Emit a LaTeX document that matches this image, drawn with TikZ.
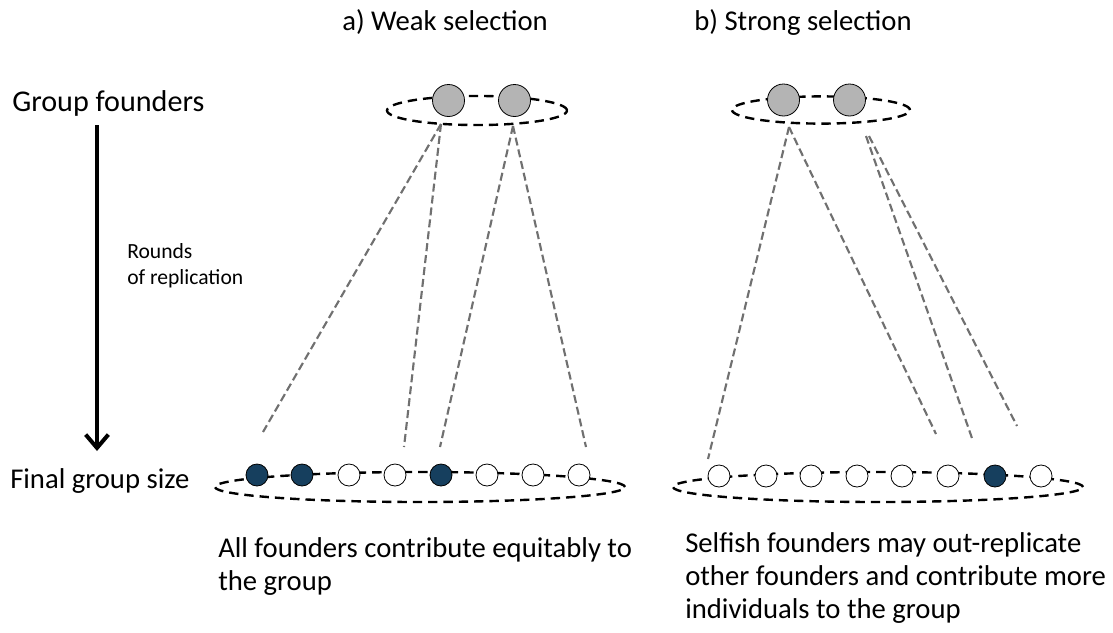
\documentclass[tikz,border=0pt]{standalone}
\usepackage{fontspec}
\setmainfont{Carlito}
\usetikzlibrary{arrows.meta}
\tikzset{>={Straight Barb[length=10pt,width=17pt]}}
\usepackage[svgnames]{xcolor}
\definecolor{founderGray}{RGB}{180,180,180}
\definecolor{selfishBlue}{RGB}{22,63,94}
\definecolor{lineageGray}{RGB}{112,112,112}

\tikzset{
  groupring/.style={draw=black, line width=1.8pt, dash pattern=on 7pt off 4.5pt},
  founder/.style={circle, draw=black, line width=0.6pt, fill=founderGray, minimum size=24pt, inner sep=0pt},
  offspring/.style={circle, draw=black, line width=0.6pt, fill=white, minimum size=16.5pt, inner sep=0pt},
  selfish/.style={offspring, fill=selfishBlue},
  lineage/.style={draw=lineageGray, line width=1.6pt, dash pattern=on 6pt off 3pt},
  bigtext/.style={font=\fontsize{21.5}{24.75}\selectfont, inner sep=0pt},
  smalltext/.style={font=\fontsize{16.2}{19.5}\selectfont, inner sep=0pt, align=left},
}

\begin{document}
\begin{tikzpicture}[x=0.75pt,y=-0.75pt]
  \useasboundingbox (0,0) rectangle (1113,632);

  % titles
  \node[bigtext] (titleA) at (445,22) {a) Weak selection};
  \node[bigtext] (titleB) at (803,22) {b) Strong selection};

  % left axis
  \node[bigtext, font=\fontsize{22.6}{26}\selectfont, anchor=west] (founders) at (12,103) {Group founders};
  \node[bigtext, anchor=west] (final) at (10,481) {Final group size};
  \coordinate (arrTop) at (97,125);
  \coordinate (arrTip) at (97,451);
  \draw[line width=3pt, ->] (arrTop) -- (arrTip);
  \node[smalltext, anchor=north west] (rounds) at (127,243) {Rounds\\of replication};

  % group rings
  \draw[groupring] (477,110.5) ellipse [x radius=67.5pt, y radius=10.9pt];
  \draw[groupring] (821,110) ellipse [x radius=66.75pt, y radius=10.2pt];
  \draw[groupring] (420,487) ellipse [x radius=153.75pt, y radius=11.25pt];
  \draw[groupring] (878,487) ellipse [x radius=153.75pt, y radius=11.25pt];

  % founders
  \node[founder] (fA1) at (448.5,100.5) {};
  \node[founder] (fA2) at (514.5,100.5) {};
  \node[founder] (fB1) at (783.5,100) {};
  \node[founder] (fB2) at (849.5,100) {};

  % final groups
  \foreach \x/\s [count=\i] in {257/selfish,302/selfish,349/offspring,395/offspring,441/selfish,487/offspring,533/offspring,579/offspring}
    \node[\s] (gA\i) at (\x,475) {};
  \foreach \x/\s [count=\i] in {719/offspring,766/offspring,811/offspring,857/offspring,902/offspring,948/offspring,995/selfish,1041/offspring}
    \node[\s] (gB\i) at (\x,476) {};

  % lineage ends
  \coordinate (sA1) at (441,124);
  \coordinate (sA2) at (513,126);
  \coordinate (eA1) at (263,432);
  \coordinate (eA2) at (404,447);
  \coordinate (eA3) at (440,447);
  \coordinate (eA4) at (586,447);
  \coordinate (sB1) at (789,127);
  \coordinate (sB2) at (866,136);
  \coordinate (sB3) at (869,136);
  \coordinate (eB1) at (708,459);
  \coordinate (eB2) at (936,434);
  \coordinate (eB3) at (973,441);
  \coordinate (eB4) at (1017,426);

  \draw[lineage] (sA1) -- (eA1);
  \draw[lineage] (sA1) -- (eA2);
  \draw[lineage] (sA2) -- (eA3);
  \draw[lineage] (sA2) -- (eA4);
  \draw[lineage] (sB1) -- (eB1);
  \draw[lineage] (sB1) -- (eB2);
  \draw[lineage] (sB2) -- (eB3);
  \draw[lineage] (sB3) -- (eB4);

  % captions
  \node[bigtext, align=left, anchor=north west] (capA) at (218,537) {All founders contribute equitably to\\the group};
  \node[bigtext, align=left, anchor=north west] (capB) at (685,532) {Selfish founders may out-replicate\\other founders and contribute more\\individuals to the group};
\end{tikzpicture}
\end{document}
